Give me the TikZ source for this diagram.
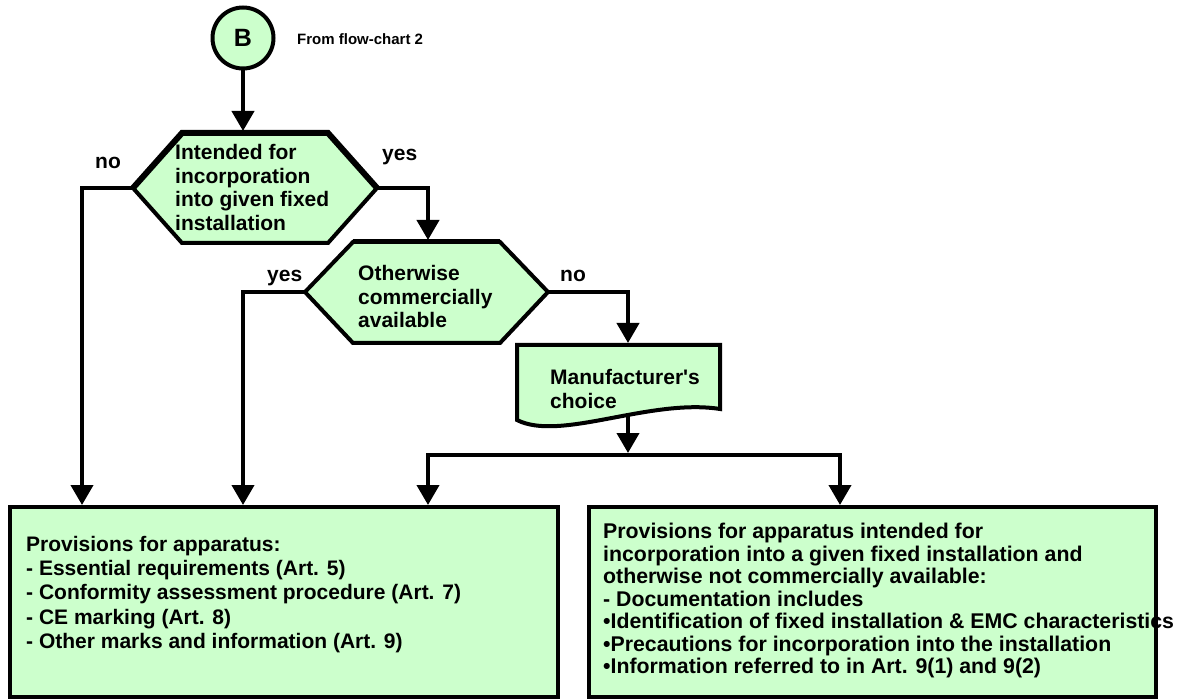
\documentclass[tikz,border=0pt]{standalone}
\usepackage{fontspec}
\newfontfamily\arialb{Liberation Sans}
\usetikzlibrary{arrows.meta}
\definecolor{lg}{RGB}{204,255,204}
\begin{document}
\begin{tikzpicture}[x=1pt,y=-1pt,
  shp/.style={draw=black,line width=4pt,fill=lg,line join=miter},
  topedge/.style={draw=black,line width=6pt,line join=miter},
  conn/.style={line width=4pt,line join=miter,-{Triangle[length=20pt,width=22pt]}},
  plainline/.style={line width=4pt,line cap=rect},
  txt/.style={font=\arialb\bfseries\fontsize{21}{23.7}\selectfont,align=left,inner sep=0pt,anchor=north west},
  lbl/.style={font=\arialb\bfseries\fontsize{21}{24}\selectfont,inner sep=0pt,anchor=base west}]
\useasboundingbox (0,0) rectangle (1183,700);

% ---------- coordinates ----------
\coordinate (h1L) at (133,188);
\coordinate (h1R) at (377,188);
\coordinate (h1T) at (243,131);
\coordinate (h2L) at (305,292);
\coordinate (h2R) at (548,292);
\coordinate (h2T) at (428,240);
\coordinate (docT) at (628,343);
\coordinate (docB) at (628,416);
\coordinate (jm) at (628,453);
\coordinate (jL) at (428,455);
\coordinate (jR) at (840,455);
\coordinate (blIn1) at (82,505);
\coordinate (blIn2) at (243,505);
\coordinate (blIn3) at (428,505);
\coordinate (brIn) at (840,505);

% ---------- start circle ----------
\node[circle,draw,line width=4pt,fill=lg,minimum size=61pt,inner sep=0pt,
      font=\arialb\bfseries\fontsize{25}{25}\selectfont] (B) at (243,38) {B};
\node[anchor=base west,inner sep=0pt,font=\arialb\bfseries\fontsize{15}{15}\selectfont]
      (from) at (297,45) {From flow-chart 2};

% ---------- hexagon 1 ----------
\filldraw[shp] (h1L) -- (182,133) -- (328,133) -- (h1R) -- (328,243) -- (182,243) -- cycle;
\draw[topedge] (h1L) -- (182,133) -- (328,133) -- (h1R);
\node[txt] (h1) at (175,144) {Intended for\\incorporation\\into given fixed\\installation};

% ---------- hexagon 2 ----------
\filldraw[shp] (h2L) -- (353,242) -- (500,242) -- (h2R) -- (500,343) -- (353,343) -- cycle;
\draw[line width=5pt] (353,242) -- (500,242);
\node[txt] (h2) at (358,265) {Otherwise\\commercially\\available};

% ---------- document shape ----------
\filldraw[shp] (517,345) -- (720,345) -- (720,409)
   .. controls (650,398) and (560,442) .. (517,420) -- cycle;
\node[txt] (doc) at (550,369) {Manufacturer's\\choice};

% ---------- bottom boxes ----------
\filldraw[shp] (10,507) rectangle (558,697);
\node[txt,font=\arialb\bfseries\fontsize{21}{24.2}\selectfont] (bl) at (26,536)
  {Provisions for apparatus:\\
   - Essential requirements (Art. 5)\\
   - Conformity assessment procedure (Art. 7)\\
   - CE marking (Art. 8)\\
   - Other marks and information (Art. 9)};

\filldraw[shp] (589,507) rectangle (1156,697);
\node[txt,font=\arialb\bfseries\fontsize{21.3}{22.5}\selectfont] (br) at (603,523)
  {Provisions for apparatus intended for\\
   incorporation into a given fixed installation and\\
   otherwise not commercially available:\\
   - Documentation includes\\
   •Identification of fixed installation \& EMC characteristics\\
   •Precautions for incorporation into the installation\\
   •Information referred to in Art. 9(1) and 9(2)};

% ---------- connectors ----------
\draw[conn] (B.south) -- (h1T);
\draw[conn] (h1L) -| (blIn1);
\draw[conn] (h1R) -| (h2T);
\draw[conn] (h2L) -| (blIn2);
\draw[conn] (h2R) -| (docT);
\draw[conn] (docB) -- (jm);
\draw[plainline] (jL) -- (jR);
\draw[conn] (jL) -- (blIn3);
\draw[conn] (jR) -- (brIn);

% ---------- labels ----------
\node[lbl] (no1) at (95,169) {no};
\node[lbl] (yes1) at (382,161) {yes};
\node[lbl] (yes2) at (267,282) {yes};
\node[lbl] (no2) at (560,282) {no};
\end{tikzpicture}
\end{document}
